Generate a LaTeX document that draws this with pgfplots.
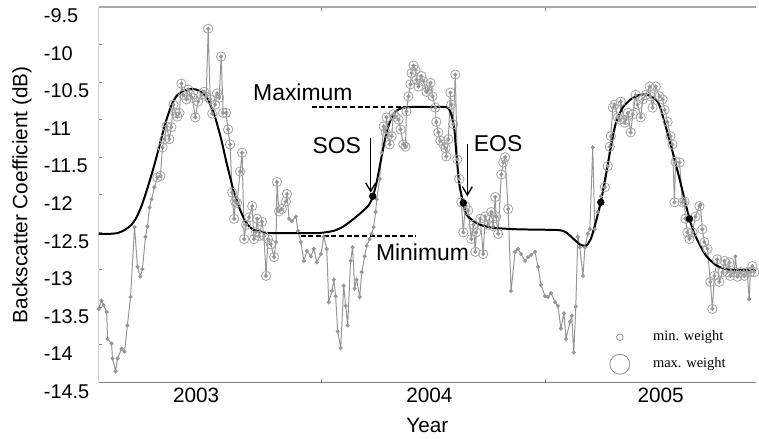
\documentclass[border=0pt]{standalone}
\usepackage{fontspec}
\setmainfont{Liberation Sans}
\newfontfamily\legfont{Liberation Serif}
\usepackage{pgfplots}
\pgfplotsset{compat=1.18}
\usepackage{pgfplotstable}
\usetikzlibrary{arrows.meta}

\pgfplotstableread{
x y w
2003.000 -13.52 0
2003.013 -13.41 0
2003.022 -13.47 0
2003.036 -13.56 0
2003.040 -13.92 0
2003.058 -13.98 0
2003.062 -14.18 0
2003.076 -14.35 0
2003.085 -14.18 0
2003.103 -14.05 0
2003.116 -14.09 0
2003.129 -13.74 0
2003.143 -13.36 0
2003.161 -12.43 0
2003.174 -12.96 0
2003.187 -13.09 0
2003.196 -12.99 0
2003.210 -12.56 0
2003.219 -12.42 0
2003.228 -12.17 0
2003.237 -12.06 0
2003.250 -11.90 0
2003.263 -11.77 2.8
2003.277 -11.75 2.8
2003.286 -11.37 2.8
2003.295 -11.26 2.8
2003.304 -11.09 2.8
2003.317 -11.26 2.8
2003.326 -11.10 2.8
2003.335 -10.80 2.8
2003.344 -10.91 2.8
2003.353 -10.96 2.8
2003.362 -10.91 2.8
2003.371 -10.52 2.8
2003.379 -10.67 2.8
2003.393 -10.73 2.8
2003.402 -10.60 2.8
2003.411 -10.67 2.8
2003.420 -10.71 2.8
2003.433 -10.97 2.8
2003.446 -10.76 2.8
2003.460 -10.67 2.8
2003.473 -10.63 2.8
2003.482 -10.69 2.8
2003.491 -9.79 2.8
2003.500 -10.73 2.8
2003.509 -10.92 2.8
2003.522 -10.80 2.8
2003.531 -10.65 2.8
2003.540 -10.71 2.8
2003.549 -10.16 2.8
2003.558 -10.91 2.8
2003.571 -10.91 2.8
2003.580 -11.13 2.8
2003.589 -11.33 2.8
2003.598 -11.97 2.8
2003.607 -12.32 2.8
2003.612 -12.09 2.8
2003.620 -12.11 2.8
2003.634 -11.69 2.8
2003.643 -11.44 2.8
2003.652 -12.59 2.8
2003.661 -12.40 2.8
2003.674 -12.30 2.8
2003.688 -12.15 2.8
2003.696 -12.59 2.8
2003.705 -12.50 2.8
2003.710 -12.32 2.8
2003.719 -12.55 2.8
2003.732 -12.36 2.8
2003.741 -12.55 2.8
2003.750 -13.08 2.8
2003.759 -12.59 2.8
2003.772 -12.66 2.8
2003.786 -12.83 2.8
2003.795 -12.63 0
2003.799 -11.83 2.8
2003.808 -12.22 2.8
2003.821 -12.19 2.8
2003.839 -12.09 2.8
2003.844 -11.99 2.8
2003.853 -12.32 0
2003.866 -12.35 0
2003.884 -12.29 0
2003.893 -12.48 0
2003.906 -12.63 0
2003.920 -12.88 0
2003.933 -12.75 0
2003.951 -12.82 0
2003.964 -12.72 0
2003.978 -12.90 0
2003.996 -12.79 0
2004.009 -12.56 0
2004.022 -12.72 0
2004.031 -13.43 0
2004.045 -13.28 0
2004.054 -13.13 0
2004.062 -13.35 0
2004.071 -13.82 0
2004.085 -14.04 0
2004.098 -13.21 0
2004.107 -13.48 0
2004.116 -13.74 0
2004.129 -12.88 0
2004.138 -12.70 0
2004.147 -13.25 0
2004.156 -13.13 0
2004.170 -13.36 0
2004.179 -13.03 0
2004.192 -12.82 0
2004.201 -12.68 0
2004.214 -12.59 0
2004.223 -12.52 0
2004.232 -12.43 0
2004.241 -12.23 0
2004.246 -12.06 0
2004.259 -11.79 0
2004.268 -11.44 0
2004.277 -11.09 2.8
2004.286 -11.17 2.8
2004.290 -10.97 2.8
2004.304 -11.33 2.8
2004.313 -11.22 2.8
2004.321 -10.93 2.8
2004.330 -10.96 2.8
2004.344 -11.00 2.8
2004.353 -11.13 2.8
2004.366 -11.33 2.8
2004.375 -11.36 2.8
2004.379 -10.89 2.8
2004.388 -10.69 2.8
2004.397 -10.53 2.8
2004.402 -10.38 2.8
2004.411 -10.28 2.8
2004.420 -10.34 2.8
2004.424 -10.47 2.8
2004.433 -10.56 2.8
2004.446 -10.42 2.8
2004.455 -10.49 2.8
2004.469 -10.63 2.8
2004.478 -10.60 2.8
2004.487 -10.51 2.8
2004.496 -10.69 2.8
2004.509 -10.84 2.8
2004.513 -11.03 2.8
2004.522 -11.17 2.8
2004.531 -11.28 2.8
2004.545 -11.33 2.8
2004.554 -11.38 2.8
2004.558 -11.49 2.8
2004.567 -11.26 2.8
2004.576 -10.64 2.8
2004.580 -10.80 2.8
2004.589 -11.06 2.8
2004.598 -10.40 2.8
2004.607 -11.53 2.8
2004.616 -11.79 2.8
2004.625 -12.10 2.8
2004.634 -12.50 2.8
2004.643 -12.15 2.8
2004.656 -12.21 2.8
2004.670 -12.59 2.8
2004.679 -12.40 2.8
2004.688 -12.76 2.8
2004.692 -12.50 2.8
2004.710 -12.32 2.8
2004.723 -12.79 2.8
2004.732 -12.29 2.8
2004.746 -12.40 2.8
2004.759 -12.23 2.8
2004.768 -12.42 2.8
2004.777 -12.03 2.8
2004.781 -12.29 2.8
2004.790 -12.52 2.8
2004.804 -11.73 2.8
2004.813 -11.57 2.8
2004.821 -11.50 2.8
2004.835 -12.19 2.8
2004.848 -13.28 0
2004.866 -12.76 0
2004.879 -12.72 0
2004.893 -12.79 0
2004.911 -12.88 0
2004.924 -12.83 0
2004.938 -12.80 0
2004.955 -12.76 0
2004.969 -12.96 0
2004.982 -13.20 0
2005.000 -13.35 0
2005.013 -13.36 0
2005.027 -13.31 0
2005.045 -13.43 0
2005.058 -13.48 0
2005.071 -13.78 0
2005.085 -13.58 0
2005.094 -13.92 0
2005.112 -13.69 0
2005.120 -13.61 0
2005.129 -14.10 0
2005.138 -13.49 0
2005.147 -12.56 0
2005.156 -12.70 0
2005.170 -13.08 0
2005.179 -12.70 0
2005.192 -12.52 0
2005.201 -12.46 0
2005.214 -11.37 0
2005.223 -12.46 0
2005.237 -12.23 0
2005.250 -12.02 0
2005.268 -11.90 2.8
2005.281 -11.62 2.8
2005.290 -11.36 2.8
2005.295 -11.22 2.8
2005.304 -10.84 2.8
2005.312 -10.80 2.8
2005.326 -10.97 2.8
2005.335 -11.00 2.8
2005.339 -10.76 2.8
2005.357 -11.04 2.8
2005.362 -11.00 2.8
2005.371 -10.91 2.8
2005.384 -11.17 2.8
2005.393 -10.93 2.8
2005.406 -10.67 2.8
2005.415 -10.80 2.8
2005.429 -10.97 2.8
2005.438 -10.73 2.8
2005.451 -10.67 2.8
2005.469 -10.56 2.8
2005.473 -10.69 2.8
2005.482 -10.84 2.8
2005.496 -10.56 2.8
2005.513 -10.69 2.8
2005.527 -10.73 2.8
2005.536 -10.87 2.8
2005.549 -11.03 2.8
2005.562 -11.22 2.8
2005.571 -11.33 2.8
2005.580 -12.10 2.8
2005.585 -11.56 2.8
2005.603 -11.57 2.8
2005.616 -12.10 2.8
2005.625 -12.09 2.8
2005.629 -12.32 2.8
2005.638 -12.50 2.8
2005.647 -12.59 2.8
2005.661 -12.50 2.8
2005.674 -12.29 2.8
2005.692 -12.15 2.8
2005.696 -12.13 0
2005.705 -12.46 2.8
2005.714 -12.63 2.8
2005.728 -12.72 2.8
2005.741 -13.16 2.8
2005.750 -13.52 2.8
2005.759 -13.08 2.8
2005.772 -12.86 2.8
2005.781 -13.16 2.8
2005.795 -13.03 2.8
2005.804 -12.88 2.8
2005.817 -13.03 2.8
2005.826 -12.90 2.8
2005.830 -13.08 2.8
2005.848 -13.03 2.8
2005.853 -12.82 0
2005.862 -13.09 2.8
2005.875 -13.03 2.8
2005.893 -13.08 2.8
2005.906 -13.03 2.8
2005.915 -13.39 0
2005.920 -13.03 2.8
2005.929 -12.95 2.8
2005.938 -13.03 2.8
}\obs

\pgfplotstableread{
x y
2003.000 -12.52
2003.049 -12.52
2003.085 -12.51
2003.116 -12.47
2003.147 -12.40
2003.170 -12.30
2003.192 -12.15
2003.219 -11.91
2003.250 -11.60
2003.281 -11.25
2003.304 -11.00
2003.326 -10.81
2003.348 -10.69
2003.371 -10.63
2003.397 -10.60
2003.415 -10.59
2003.437 -10.60
2003.460 -10.63
2003.487 -10.72
2003.518 -10.93
2003.549 -11.26
2003.576 -11.61
2003.607 -11.97
2003.638 -12.23
2003.665 -12.39
2003.696 -12.47
2003.728 -12.49
2003.763 -12.51
2003.897 -12.51
2003.987 -12.51
2004.054 -12.48
2004.098 -12.42
2004.143 -12.32
2004.179 -12.23
2004.210 -12.14
2004.228 -12.03
2004.246 -11.83
2004.268 -11.49
2004.290 -11.17
2004.313 -10.97
2004.335 -10.88
2004.366 -10.84
2004.424 -10.83
2004.545 -10.83
2004.567 -10.85
2004.580 -10.93
2004.594 -11.13
2004.603 -11.46
2004.616 -11.86
2004.634 -12.11
2004.647 -12.26
2004.679 -12.35
2004.710 -12.40
2004.768 -12.44
2004.879 -12.46
2005.058 -12.47
2005.094 -12.50
2005.125 -12.58
2005.156 -12.66
2005.183 -12.68
2005.205 -12.59
2005.228 -12.36
2005.250 -12.10
2005.272 -11.75
2005.295 -11.37
2005.317 -11.05
2005.348 -10.84
2005.384 -10.73
2005.424 -10.67
2005.460 -10.67
2005.496 -10.73
2005.513 -10.81
2005.540 -11.08
2005.571 -11.42
2005.603 -11.79
2005.647 -12.32
2005.674 -12.55
2005.719 -12.80
2005.763 -12.93
2005.808 -12.99
2005.862 -13.00
2005.946 -13.00
}\fit

\pgfplotstableread{
x y
2004.228 -12.02
2004.634 -12.11
2005.250 -12.10
2005.647 -12.32
}\phen

\definecolor{obsgray}{RGB}{150,150,150}
\definecolor{axgray}{RGB}{130,130,130}

\begin{document}
\begin{tikzpicture}
\begin{axis}[
  at={(0,0)}, anchor=south west,
  width=396pt, height=226.2pt, scale only axis,
  xmin=2003.0, xmax=2005.946, ymin=-14.5, ymax=-9.5,
  axis line style={draw=none},
  xtick={2004,2005}, xticklabels={},
  extra x ticks={2003.437,2004.482,2005.518},
  extra x tick labels={2003,2004,2005},
  extra x tick style={major tick length=0pt},
  ytick={-14.5,-14,-13.5,-13,-12.5,-12,-11.5,-11,-10.5,-10,-9.5},
  yticklabels={-14.5,-14,-13.5,-13,-12.5,-12,-11.5,-11,-10.5,-10,-9.5},
  tick align=inside, xtick pos=both, ytick pos=left,
  major tick length=2.2pt,
  tick style={axgray, line width=0.6pt},
  yticklabel style={anchor=west, xshift=-36.5pt, yshift=-5.4pt, font=\fontsize{12}{14}\selectfont},
  xticklabel style={font=\fontsize{12.5}{15}\selectfont},
  xlabel={Year}, ylabel={Backscatter Coefficient (dB)},
  label style={font=\fontsize{12.5}{15}\selectfont},
  x label style={at={(axis description cs:0.5,-0.114)}, anchor=center},
  y label style={at={(axis description cs:-0.1167,0.5)}, anchor=center},
  legend style={draw=none, fill=none, at={(axis cs:2005.267,-13.72)}, anchor=north west,
    font=\legfont\fontsize{8.7}{10}\selectfont, row sep=4.5pt,
    /tikz/every odd column/.append style={column sep=12pt}},
  legend cell align=left,
]
\addlegendimage{only marks, mark=o, mark size=2pt, draw=obsgray, line width=0.5pt}
\addlegendentry{min. weight}
\addlegendimage{only marks, mark=o, mark size=6pt, draw=obsgray, line width=0.5pt}
\addlegendentry{max. weight}

\addplot[forget plot, color=obsgray, line width=0.6pt, mark=*, mark size=0.9pt,
  mark options={fill=obsgray, draw=obsgray}] table[x=x, y=y] {\obs};
\addplot[forget plot, only marks, mark=o, line width=0.5pt,
  scatter, point meta=y,
  scatter/use mapped color={draw=obsgray!85, fill=none},
  visualization depends on={\thisrow{w} \as \wt},
  scatter/@pre marker code/.append style={/tikz/mark size=\wt pt}]
  table[x=x, y=y] {\obs};
\addplot[forget plot, black, line width=1.2pt, smooth, tension=0.4] table[x=x, y=y] {\fit};
\addplot[forget plot, only marks, mark=*, mark size=2pt, black] table[x=x, y=y] {\phen};

\draw[axgray, line width=0.9pt] (rel axis cs:0,1) -- (rel axis cs:0,0) -- (rel axis cs:1,0);
\draw[axgray!70, line width=0.8pt] (rel axis cs:0,1) -- (rel axis cs:1,1);

\draw[black, line width=1pt, dash pattern=on 3pt off 1.6pt] (axis cs:2003.955,-10.83) -- (axis cs:2004.469,-10.83);
\draw[black, line width=1pt, dash pattern=on 3pt off 1.6pt] (axis cs:2003.906,-12.55) -- (axis cs:2004.420,-12.55);
\node[font=\fontsize{13.8}{16}\selectfont] at (axis cs:2003.915,-10.64) {Maximum};
\node[font=\fontsize{13.8}{16}\selectfont] at (axis cs:2004.067,-11.34) {SOS};
\node[font=\fontsize{13.8}{16}\selectfont] at (axis cs:2004.790,-11.32) {EOS};
\node[font=\fontsize{13.8}{16}\selectfont] at (axis cs:2004.451,-12.76) {Minimum};
\draw[black, line width=0.8pt, -{Straight Barb[length=5pt,width=6pt]}] (axis cs:2004.219,-11.24) -- (axis cs:2004.219,-11.97);
\draw[black, line width=0.8pt, -{Straight Barb[length=5pt,width=6pt]}] (axis cs:2004.652,-11.33) -- (axis cs:2004.652,-12.02);
\end{axis}
\path (-59.4pt,-32.4pt) rectangle (396pt,230.4pt);
\end{tikzpicture}
\end{document}
